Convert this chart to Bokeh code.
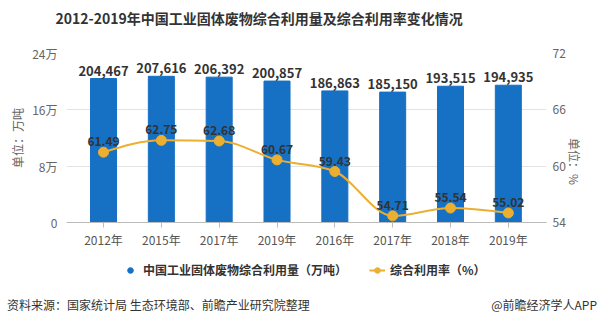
import math
import numpy as np
from bokeh.plotting import figure
from bokeh.layouts import column
from bokeh.models import (Range1d, LinearAxis, FixedTicker, ColumnDataSource,
                          Legend, LegendItem, Title, Div)
from bokeh.embed import file_html
from bokeh.resources import INLINE
from bokeh.core.properties import value

# ---------------- data ----------------
years = ["2012年", "2015年", "2017年", "2019年", "2016年", "2017年", "2018年", "2019年"]
amount = [204467, 207616, 206392, 200857, 186863, 185150, 193515, 194935]
rate = [61.49, 62.75, 62.68, 60.67, 59.43, 54.71, 55.54, 55.02]
left_ticks = [0, 80000, 160000, 240000]
left_tick_labels = ["0", "8万", "16万", "24万"]
right_ticks = [54, 60, 66, 72]

title_text = "2012-2019年中国工业固体废物综合利用量及综合利用率变化情况"
source_text = "资料来源：国家统计局 生态环境部、前瞻产业研究院整理"
brand_text = "@前瞻经济学人APP"
series1_name = "中国工业固体废物综合利用量（万吨）"
series2_name = "综合利用率（%）"

FONT = "Noto Sans CJK SC"
BLUE = "#1670C4"
GOLD = "#EDAF2F"

x = list(range(len(years)))

p = figure(width=600, height=250, output_backend="svg", toolbar_location=None,
           x_range=Range1d(-0.64, 7.66), y_range=Range1d(0, 240000),
           min_border_left=66, min_border_right=54, min_border_top=51,
           min_border_bottom=26, outline_line_color=None)
p.extra_y_ranges = {"rate": Range1d(54, 72)}

# bars
src = ColumnDataSource(dict(x=x, amount=amount,
                            lbl=[f"{v:,}" for v in amount]))
p.vbar(x="x", top="amount", width=0.45, color=BLUE, source=src)
p.text(x="x", y="amount", text="lbl", source=src, text_align="center",
       text_baseline="bottom", y_offset=-3, text_font=value(FONT),
       text_font_size="13px", text_font_style="bold", text_color="#333333")

# smooth (monotone) line via bezier segments computed from the data
ys = np.array(rate, dtype=float)
n = len(ys)
d = np.diff(ys)
m = np.zeros(n)
for i in range(1, n - 1):
    s0, s1 = d[i - 1], d[i]
    pp = (s0 + s1) / 2
    m[i] = (np.sign(s0) + np.sign(s1)) * min(abs(s0), abs(s1), 0.5 * abs(pp))
m[0] = (3 * d[0] - m[1]) / 2
m[-1] = (3 * d[-1] - m[-2]) / 2
bz = ColumnDataSource(dict(
    x0=x[:-1], y0=ys[:-1], x1=x[1:], y1=ys[1:],
    cx0=[xi + 1 / 3 for xi in x[:-1]], cy0=ys[:-1] + m[:-1] / 3,
    cx1=[xi + 2 / 3 for xi in x[:-1]], cy1=ys[1:] - m[1:] / 3))
p.bezier(x0="x0", y0="y0", x1="x1", y1="y1", cx0="cx0", cy0="cy0",
         cx1="cx1", cy1="cy1", source=bz, line_color=GOLD, line_width=2,
         y_range_name="rate")
rsrc = ColumnDataSource(dict(x=x, rate=rate, lbl=[f"{r:.2f}" for r in rate]))
p.scatter(x="x", y="rate", source=rsrc, size=10, color=GOLD, y_range_name="rate")
p.text(x="x", y="rate", text="lbl", source=rsrc, y_range_name="rate",
       text_align="center", text_baseline="bottom", y_offset=-6,
       text_font=value(FONT), text_font_size="12px", text_font_style="bold",
       text_color="#333333")

# axes
ly = p.yaxis[0]
ly.ticker = FixedTicker(ticks=left_ticks)
ly.major_label_overrides = {t: l for t, l in zip(left_ticks, left_tick_labels)}
ly.axis_line_color = None
ly.major_tick_line_color = None
ly.minor_tick_line_color = None
ly.major_label_text_font = FONT
ly.major_label_text_font_size = "12px"
ly.major_label_text_color = "#666666"
ly.major_label_standoff = 3
ly.axis_label = "单位：万吨"
ly.axis_label_text_font = FONT
ly.axis_label_text_font_style = "normal"
ly.axis_label_text_font_size = "12px"
ly.axis_label_text_color = "#666666"
ly.axis_label_standoff = 3

ry = LinearAxis(y_range_name="rate", ticker=FixedTicker(ticks=right_ticks))
ry.axis_line_color = None
ry.major_tick_line_color = None
ry.minor_tick_line_color = None
ry.major_label_text_font = FONT
ry.major_label_text_font_size = "12px"
ry.major_label_text_color = "#666666"
ry.major_label_standoff = 0
ry.axis_label = "单位：%"
ry.axis_label_orientation = -math.pi / 2
ry.axis_label_text_font = FONT
ry.axis_label_text_font_style = "normal"
ry.axis_label_text_font_size = "12px"
ry.axis_label_text_color = "#666666"
ry.axis_label_standoff = 6
p.add_layout(ry, "right")

bx = p.xaxis[0]
bx.ticker = FixedTicker(ticks=x)
bx.major_label_overrides = {i: y for i, y in zip(x, years)}
bx.axis_line_color = "#BBBBBB"
bx.major_tick_line_color = "#BBBBBB"
bx.major_tick_in = 0
bx.major_tick_out = 5
bx.minor_tick_line_color = None
bx.major_label_text_font = FONT
bx.major_label_text_font_size = "12px"
bx.major_label_text_color = "#555555"
bx.major_label_standoff = 3

p.xgrid.grid_line_color = None
p.ygrid.ticker = FixedTicker(ticks=left_ticks)
p.ygrid.grid_line_color = "#E3E3E3"

# title (spacer first so the title sits near the top edge)
p.add_layout(Title(text=" ", text_font_size="8px"), "above")
p.add_layout(Title(text=title_text, align="left", offset=-11,
                   text_font=FONT, text_font_size="14px", text_font_style="bold",
                   text_color="#333333"), "above")

# legend strip
foot = figure(width=600, height=46, output_backend="svg", toolbar_location=None,
              x_range=Range1d(0, 1), y_range=Range1d(0, 1),
              x_axis_location=None, y_axis_location=None,
              min_border=0, outline_line_color=None)
foot.grid.visible = False
# legend swatches (one point each, placed outside the visible range)
lg_c = foot.scatter(x=[-5], y=[-5], marker="circle", size=10, color=BLUE)
lg_l = foot.line(x=[-5, -4], y=[-5, -5], line_color=GOLD, line_width=2)
lg_p = foot.scatter(x=[-5], y=[-5], marker="circle", size=6, color=GOLD)
legend = Legend(items=[LegendItem(label=series1_name, renderers=[lg_c]),
                       LegendItem(label=series2_name, renderers=[lg_l, lg_p])],
                orientation="horizontal", location=(56, 18),
                border_line_color=None, background_fill_alpha=0,
                label_text_font=FONT, label_text_font_size="12px",
                label_text_font_style="bold", label_text_color="#333333",
                glyph_width=16, glyph_height=14, label_standoff=5, spacing=22,
                padding=0, margin=0)
foot.add_layout(legend, "center")

# source line
src_div = Div(width=600, height=30, text=(
    '<div style="display:flex;justify-content:space-between;box-sizing:border-box;'
    'width:592px;padding:0 0 0 2px;position:relative;top:-4px;'
    'font-family:\'Noto Sans CJK SC\';'
    'font-size:12px;color:#333333;line-height:16px;white-space:nowrap;">'
    f'<span>{source_text}</span><span>{brand_text}</span></div>'))

open("out.html", "w").write(file_html(column(p, foot, src_div, spacing=0), INLINE))
